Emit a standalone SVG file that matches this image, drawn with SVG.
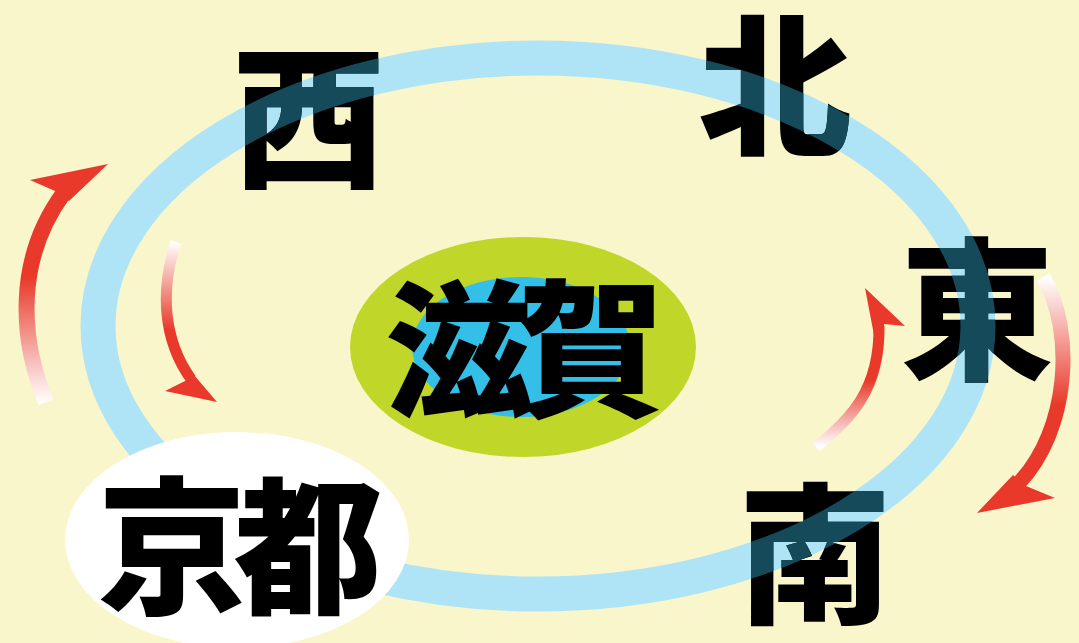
<svg xmlns="http://www.w3.org/2000/svg" xmlns:xlink="http://www.w3.org/1999/xlink" width="1079" height="643" viewBox="0 0 1079 643">
<defs>
<style>
.k{font-family:"Noto Sans CJK JP","Noto Sans CJK SC",sans-serif;font-weight:900;fill:#000;text-anchor:middle;dominant-baseline:central}
.shaft{fill:none;stroke-linecap:butt}
.head{fill:#e8392a}
</style>
<linearGradient id="gLO" gradientUnits="userSpaceOnUse" x1="0" y1="277" x2="0" y2="403"><stop offset="0" stop-color="#e8392a"/><stop offset="1" stop-color="#ffffff"/></linearGradient>
<linearGradient id="gLI" gradientUnits="userSpaceOnUse" x1="0" y1="242" x2="0" y2="330"><stop offset="0" stop-color="#ffffff"/><stop offset="1" stop-color="#e8392a"/></linearGradient>
<linearGradient id="gRI" gradientUnits="userSpaceOnUse" x1="0" y1="380" x2="0" y2="447"><stop offset="0" stop-color="#e8392a"/><stop offset="1" stop-color="#ffffff"/></linearGradient>
<linearGradient id="gRO" gradientUnits="userSpaceOnUse" x1="0" y1="277" x2="0" y2="405"><stop offset="0" stop-color="#ffffff"/><stop offset="1" stop-color="#e8392a"/></linearGradient>
<clipPath id="txtclip">
<use xlink:href="#t-west"/><use xlink:href="#t-north"/><use xlink:href="#t-east"/><use xlink:href="#t-south"/>
</clipPath>
</defs>
<rect width="1079" height="643" fill="#f9f6cb"/>
<g id="ring">
<ellipse cx="538" cy="326" rx="440" ry="268" fill="none" stroke="#aee4f6" stroke-width="35"/>
</g>
<g id="shiga">
<ellipse cx="523" cy="347" rx="173" ry="110" fill="#c0d72a"/>
<ellipse cx="521" cy="347" rx="109" ry="70" fill="#34bfe9"/>
<text class="k" x="517" y="340" font-size="148" letter-spacing="-16">滋賀</text>
</g>
<g id="kyoto">
<ellipse cx="237" cy="540" rx="172" ry="108" fill="#ffffff"/>
<text class="k" x="234" y="537" font-size="148" letter-spacing="-12">京都</text>
</g>
<g id="west"><text id="t-west" class="k" x="309" y="109" font-size="153">西</text></g>
<g id="north"><text id="t-north" class="k" x="775" y="77" font-size="153">北</text></g>
<g id="east"><text id="t-east" class="k" x="977" y="301" font-size="153">東</text></g>
<g id="south"><text id="t-south" class="k" x="815" y="545" font-size="153">南</text></g>
<g id="ring-overlay" clip-path="url(#txtclip)">
<ellipse cx="538" cy="326" rx="440" ry="268" fill="none" stroke="#154a5a" stroke-width="35"/>
</g>
<g id="connectors">
<path class="shaft" d="M46,402 C20,340 15,260 63,194" stroke="url(#gLO)" stroke-width="16"/>
<polygon class="head" points="55,191 30,180 108,164 69,201"/>
<path class="shaft" d="M176,242 C160,290 163,340 191,379" stroke="url(#gLI)" stroke-width="11"/>
<polygon class="head" points="194,375 217,402 165,391 185,381"/>
<path class="shaft" d="M816,447 C850,420 880,390 879,326" stroke="url(#gRI)" stroke-width="11"/>
<polygon class="head" points="874,335 865,288 905,326 884,324 884,335"/>
<path class="shaft" d="M1043,277 C1075,330 1070,430 1018,484" stroke="url(#gRO)" stroke-width="15"/>
<polygon class="head" points="1013,475 977,513 1055,498 1026,486"/>
</g>
</svg>
